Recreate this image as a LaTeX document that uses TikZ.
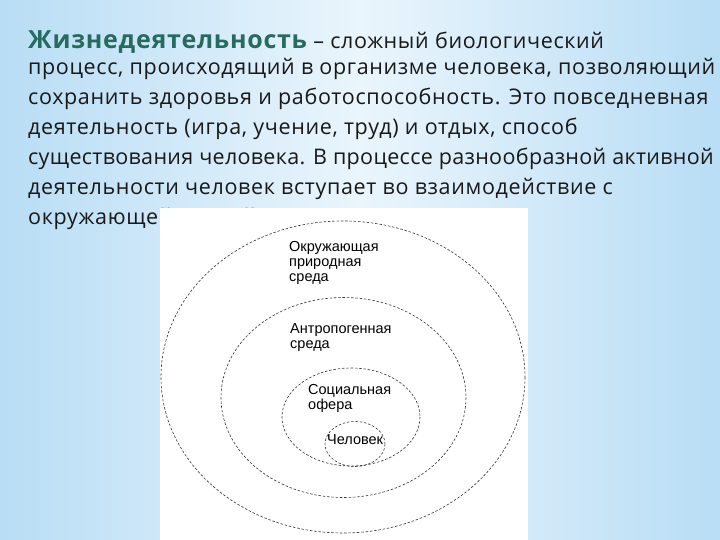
\documentclass[tikz,border=0pt]{standalone}
\usepackage{fontspec}
\setmainfont[LetterSpace=3]{Open Sans}
\newfontfamily\arialfont{Liberation Sans}
\usetikzlibrary{positioning}
\definecolor{titleteal}{HTML}{256B5E}
\definecolor{skyedge}{HTML}{B8DDF5}
\definecolor{skymid}{HTML}{EAF5FC}

\begin{document}
\begin{tikzpicture}[x=1pt,y=-1pt,
    txt/.style={anchor=base west,inner sep=0pt,text=black!90,
      font=\fontsize{21.5}{24}\selectfont},
    ring/.style={draw=black!80,line width=0.6pt,dash pattern=on 2.5pt off 1.8pt},
    lbl/.style={anchor=north west,inner sep=0pt,align=left,
      font=\arialfont\fontsize{14.5}{15}\selectfont}]
   \useasboundingbox (0,0) rectangle (720,540);
   \shade[left color=skyedge,right color=skyedge,middle color=skymid] (0,0) rectangle (720,540);
   % text
   \node[txt] (title) at (28,49)
      {\textcolor{titleteal}{\fontsize{25}{28}\selectfont\bfseries Жизнедеятельность} – сложный биологический};
   \node[txt] (l1) at (28,75) {процесс, происходящий в организме человека, позволяющий};
   \node[txt] (l2) at (28,105) {сохранить здоровья и работоспособность. Это повседневная};
   \node[txt] (l3) at (28,135) {деятельность (игра, учение, труд) и отдых, способ};
   \node[txt] (l4) at (28,165) {\addfontfeature{LetterSpace=1.5}существования человека. В процессе разнообразной активной};
   \node[txt] (l5) at (28,195) {деятельности человек вступает во взаимодействие с};
   \node[txt] (l6) at (28,225) {окружающей средой.};
   % picture
   \fill[white] (160,208) rectangle (528,540);
   \draw[ring] (343,377) ellipse [x radius=182,y radius=156];
   \draw[ring] (343.5,397.5) ellipse [x radius=122.5,y radius=100];
   \draw[ring] (351,417) ellipse [x radius=69,y radius=49];
   \draw[ring] (355,444) ellipse [x radius=30,y radius=22.5];
   \node[lbl] (nature) at (289,241) {Окружающая\\природная\\среда};
   \node[lbl] (anthro) at (290,323) {Антропогенная\\среда};
   \node[lbl] (social) at (308,384) {Социальная\\офера};
   \node[lbl] (human) at (327,434) {Человек};
\end{tikzpicture}
\end{document}
